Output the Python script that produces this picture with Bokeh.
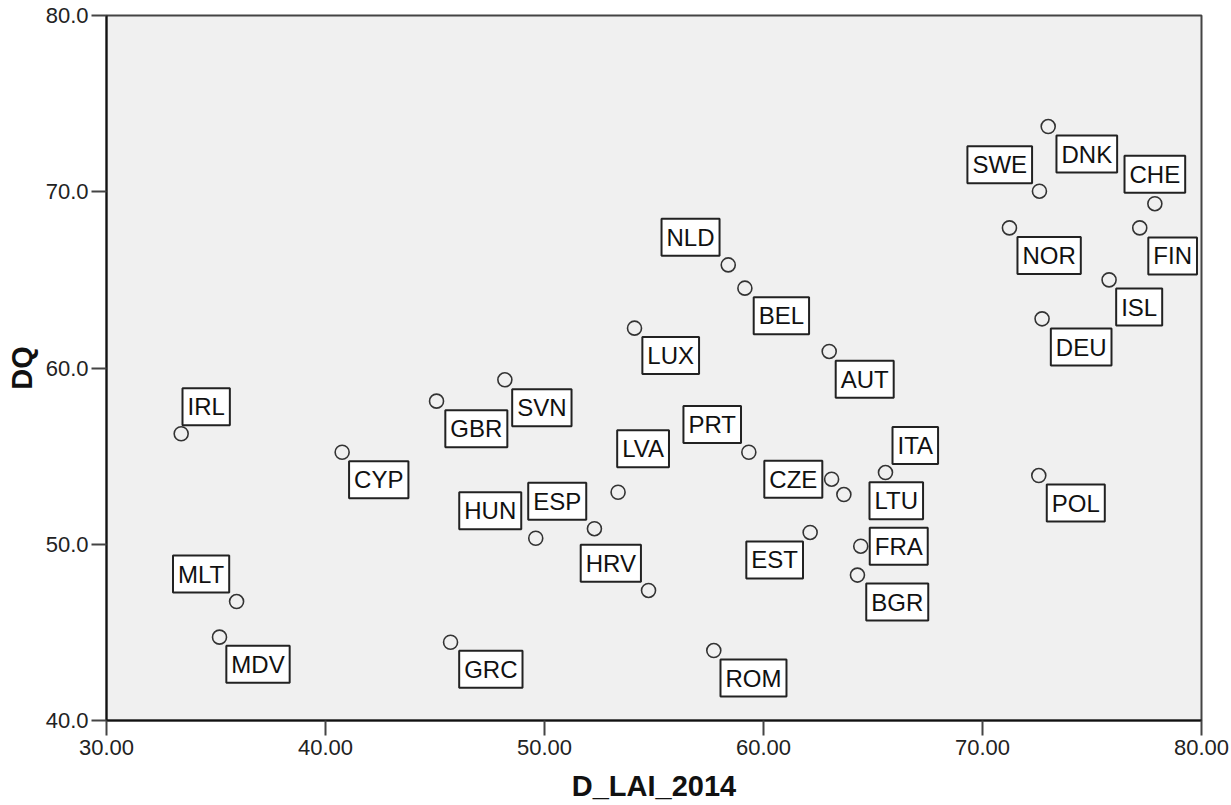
from bokeh.plotting import figure
from bokeh.models import ColumnDataSource, Range1d, FixedTicker
from bokeh.core.properties import value
from bokeh.embed import file_html
from bokeh.resources import INLINE

# ---- data ----
countries = ["IRL", "MLT", "MDV", "CYP", "GBR", "SVN", "GRC", "HUN", "ESP", "LVA",
             "HRV", "LUX", "NLD", "BEL", "ROM", "PRT", "AUT", "CZE", "LTU", "ITA",
             "EST", "FRA", "BGR", "NOR", "SWE", "DNK", "DEU", "POL", "ISL", "FIN", "CHE"]
d_lai_2014 = [33.41, 35.94, 35.16, 40.76, 45.07, 48.19, 45.71, 49.60, 52.28, 53.36,
              54.75, 54.11, 58.39, 59.15, 57.73, 59.33, 63.00, 63.11, 63.67, 65.57,
              62.13, 64.44, 64.29, 71.23, 72.60, 73.00, 72.72, 72.57, 75.78, 77.18, 77.87]
dq = [56.27, 46.75, 44.73, 55.22, 58.12, 59.33, 44.44, 50.34, 50.88, 52.95,
      47.38, 62.26, 65.85, 64.53, 43.97, 55.22, 60.94, 53.69, 52.82, 54.07,
      50.67, 49.89, 48.25, 67.95, 70.03, 73.70, 62.79, 53.90, 65.00, 67.95, 69.32]

x_ticks = [30, 40, 50, 60, 70, 80]
x_tick_labels = ["30.00", "40.00", "50.00", "60.00", "70.00", "80.00"]
y_ticks = [40, 50, 60, 70, 80]
y_tick_labels = ["40.0", "50.0", "60.0", "70.0", "80.0"]

# ---- label placement (screen-pixel offsets of each label box from its point; +dy = up) ----
label_dx = [25, -35.5, 38.5, 36.6, 39.8, 37, 40.3, -45.5, -37.2, 25,
            -37.7, 36.2, -37.7, 36.5, 39.7, -36.6, 35.5, -38.3, 52.4, 29.8,
            -35.5, 38, 39.8, 39.7, -39.7, 38.6, 39.1, 37, 30.1, 32.9, 0]
label_dy = [27, 27.5, -27, -27.6, -27.6, -28, -27, 27.4, 27.5, 43.4,
            27.2, -27.3, 27.6, -27.6, -27.5, 27.7, -27.7, 0, -6.3, 27,
            -27.5, 0, -27, -27.5, 26.5, -27.5, -28.2, -27.5, -27.2, -28, 29.5]
label_dy_screen = [-d for d in label_dy]

source = ColumnDataSource(dict(x=d_lai_2014, y=dq, name=countries,
                               dx=label_dx, dy=label_dy_screen))

p = figure(width=1231, height=805, frame_width=1095, frame_height=705,
           min_border_left=106, min_border_right=30, min_border_top=15,
           min_border_bottom=85,
           x_range=Range1d(30, 80), y_range=Range1d(40, 80),
           output_backend="svg", toolbar_location=None,
           background_fill_color="#f0f0f0", border_fill_color="white")

p.xgrid.visible = False
p.ygrid.visible = False
p.outline_line_color = "#444444"
p.outline_line_width = 2

p.xaxis.ticker = FixedTicker(ticks=x_ticks)
p.yaxis.ticker = FixedTicker(ticks=y_ticks)
p.xaxis.major_label_overrides = dict(zip(x_ticks, x_tick_labels))
p.yaxis.major_label_overrides = dict(zip(y_ticks, y_tick_labels))

for ax in (p.xaxis, p.yaxis):
    ax.axis_line_color = "#111111"
    ax.axis_line_width = 2
    ax.major_tick_line_color = "#444444"
    ax.major_tick_line_width = 2
    ax.major_tick_out = 15
    ax.major_tick_in = 0
    ax.minor_tick_line_color = None
    ax.major_label_text_font = "Liberation Sans"
    ax.major_label_text_font_size = "22px"
    ax.major_label_text_color = "#222222"
    ax.axis_label_text_font = "Liberation Sans"
    ax.axis_label_text_font_size = "29px"
    ax.axis_label_text_font_style = "bold"
    ax.axis_label_text_color = "#111111"

p.xaxis.axis_label = "D_LAI_2014"
p.yaxis.axis_label = "DQ"
p.xaxis.major_label_standoff = 4
p.yaxis.major_label_standoff = 3
p.xaxis.axis_label_standoff = 12
p.yaxis.axis_label_standoff = 5

p.scatter("x", "y", source=source, marker="circle", size=14,
          fill_color=None, line_color="#333333", line_width=1.6)

p.text("x", "y", text="name", source=source,
       x_offset="dx", y_offset="dy",
       text_align="center", text_baseline="middle",
       text_font=value("Liberation Sans"), text_font_size="24px",
       text_color="#111111",
       background_fill_color="white",
       border_line_color="#222222", border_line_width=2,
       padding=5)

open("out.html", "w").write(file_html(p, INLINE))
